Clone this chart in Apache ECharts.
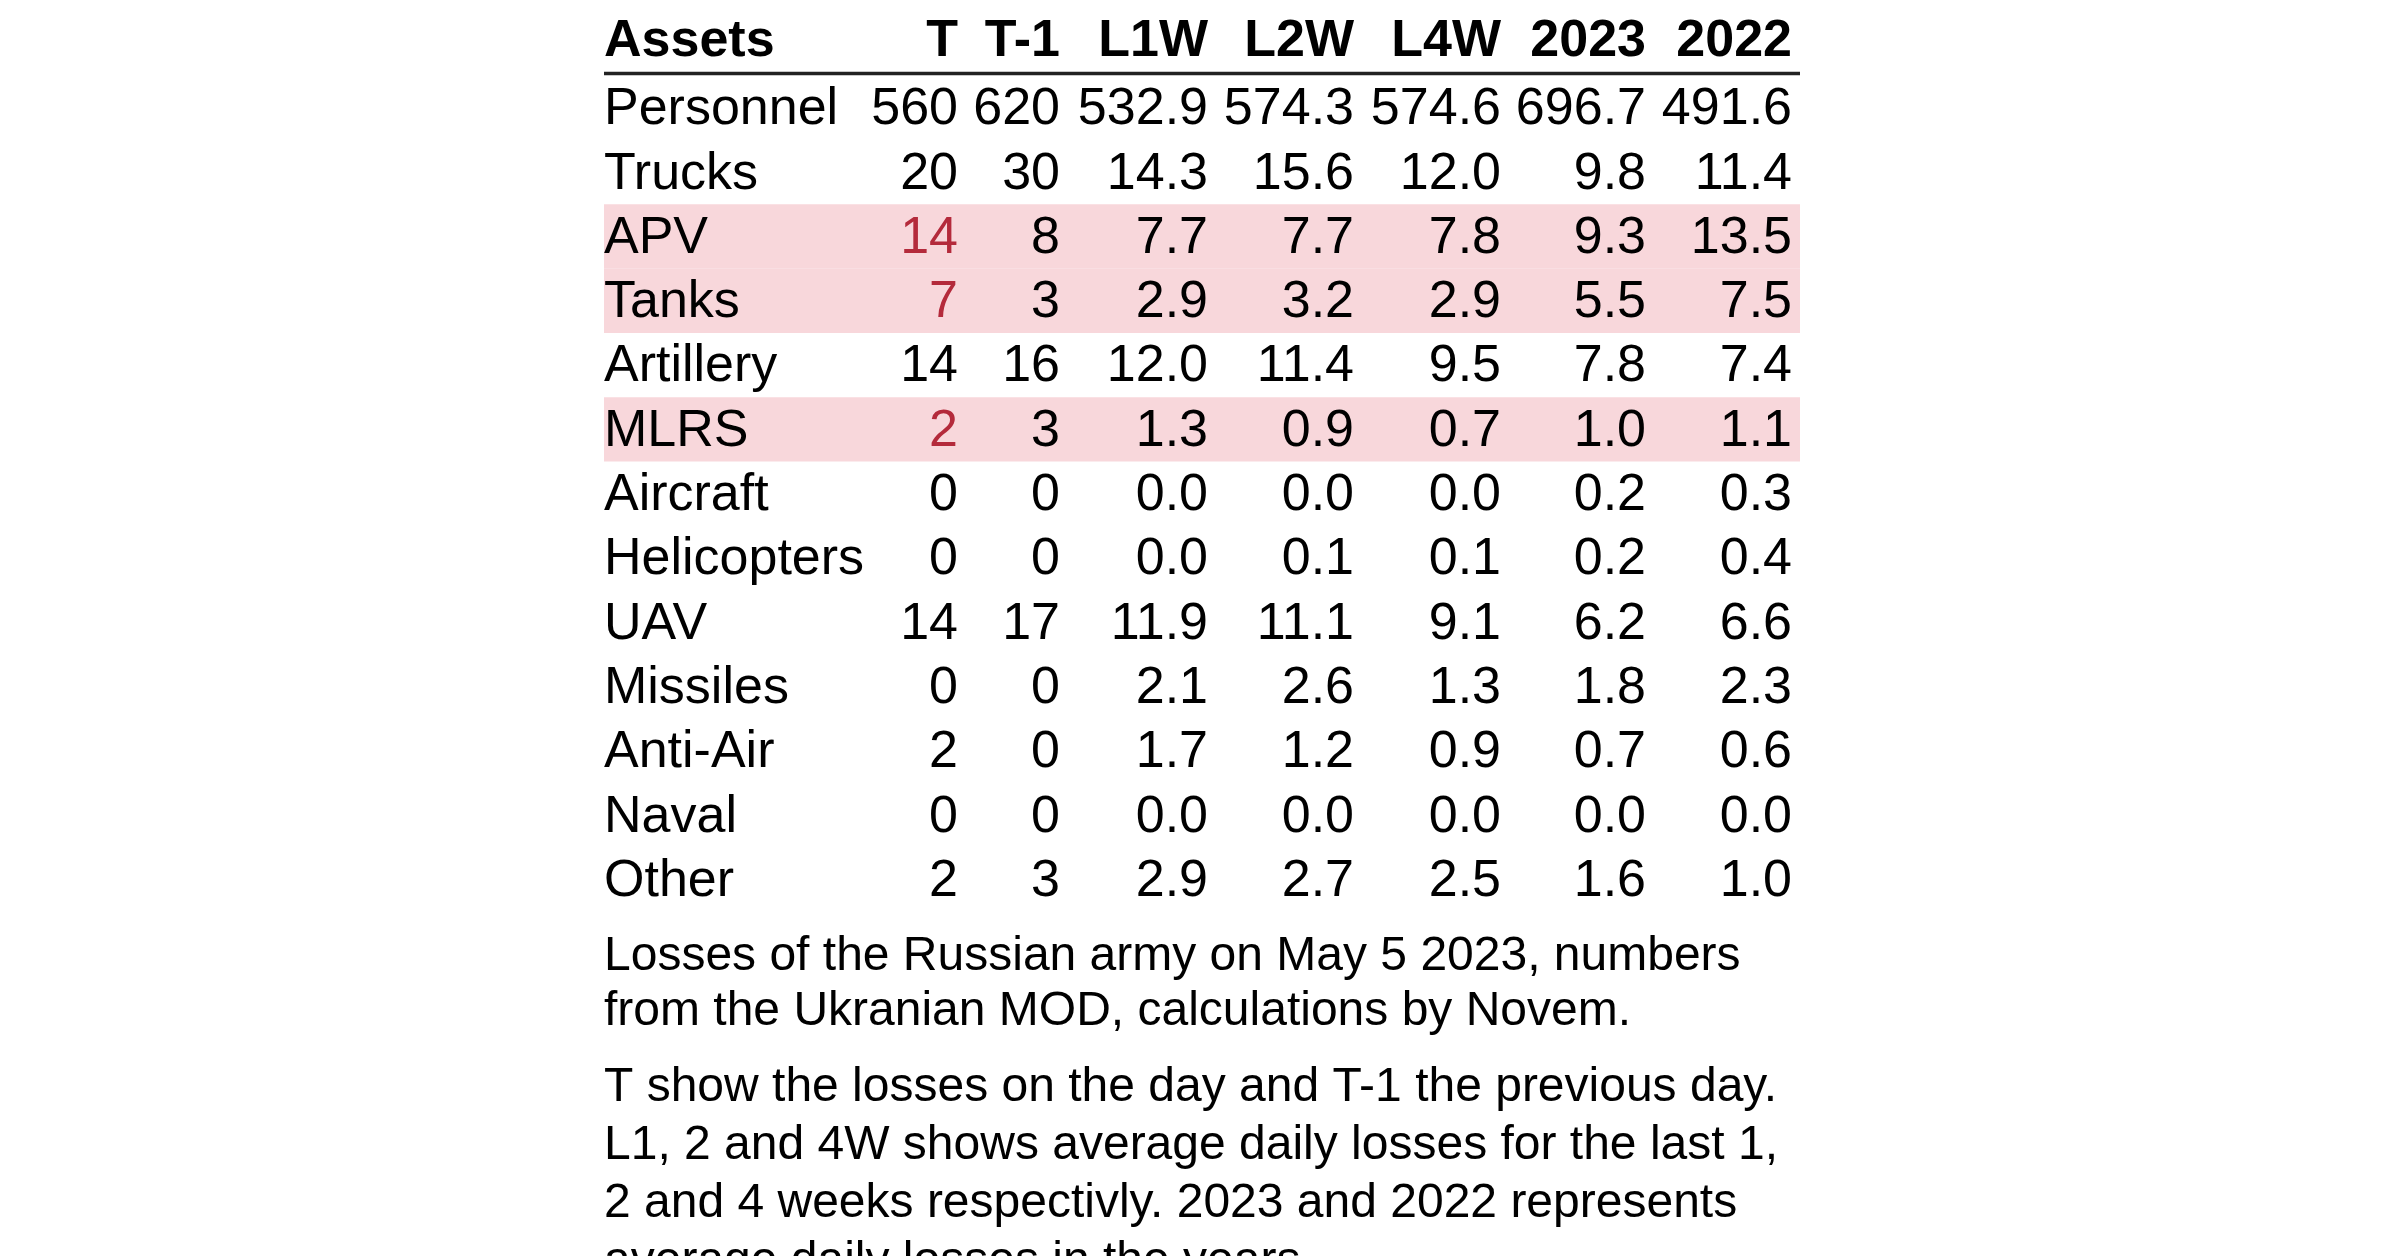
<!DOCTYPE html>
<html>
<head>
<meta charset="utf-8">
<script src="https://cdn.jsdelivr.net/npm/echarts@6/dist/echarts.min.js"></script>
<style>
  html, body { margin: 0; padding: 0; background: #fff; }
  #table-chart { width: 2400px; height: 1256px; }
</style>
</head>
<body>
<div id="table-chart"></div>
<script>
// 表格数据
const columns = ["T", "T-1", "L1W", "L2W", "L4W", "2023", "2022"];
const assets = ["Personnel", "Trucks", "APV", "Tanks", "Artillery", "MLRS", "Aircraft",
    "Helicopters", "UAV", "Missiles", "Anti-Air", "Naval", "Other"];
const tValues   = [560, 20, 14, 7, 14, 2, 0, 0, 14, 0, 2, 0, 2];
const t1Values  = [620, 30, 8, 3, 16, 3, 0, 0, 17, 0, 0, 0, 3];
const l1wValues = [532.9, 14.3, 7.7, 2.9, 12.0, 1.3, 0.0, 0.0, 11.9, 2.1, 1.7, 0.0, 2.9];
const l2wValues = [574.3, 15.6, 7.7, 3.2, 11.4, 0.9, 0.0, 0.1, 11.1, 2.6, 1.2, 0.0, 2.7];
const l4wValues = [574.6, 12.0, 7.8, 2.9, 9.5, 0.7, 0.0, 0.1, 9.1, 1.3, 0.9, 0.0, 2.5];
const y2023Values = [696.7, 9.8, 9.3, 5.5, 7.8, 1.0, 0.2, 0.2, 6.2, 1.8, 0.7, 0.0, 1.6];
const y2022Values = [491.6, 11.4, 13.5, 7.5, 7.4, 1.1, 0.3, 0.4, 6.6, 2.3, 0.6, 0.0, 1.0];
const highlightRows = ["APV", "Tanks", "MLRS"];

const note1 = "Losses of the Russian army on May 5 2023, numbers\nfrom the Ukranian MOD, calculations by Novem.";
const note2 = "T show the losses on the day and T-1 the previous day.\nL1, 2 and 4W shows average daily losses for the last 1,\n2 and 4 weeks respectivly. 2023 and 2022 represents\naverage daily losses in the years.";

// 布局 (x 轴单位为像素宽度, 列的右边缘)
const tableWidth = 1196;
const colRight = [354, 456, 604, 750, 897, 1042, 1188];
const FONT = '"Liberation Sans", Arial, sans-serif';
const RED = "#b42a3b";
const PINK = "#f8d7db";

const colValues = [tValues, t1Values, l1wValues, l2wValues, l4wValues, y2023Values, y2022Values];

let cells = [];
columns.forEach(function (c, ci) {
    cells.push([ci, -1, c, 1]);
});
assets.forEach(function (a, ri) {
    cells.push([-1, ri, a, 0]);
    colValues.forEach(function (vals, ci) {
        let txt = ci < 2 ? String(vals[ri]) : vals[ri].toFixed(1);
        let red = (ci === 0 && highlightRows.indexOf(a) >= 0) ? 2 : 0;
        cells.push([ci, ri, txt, red]);
    });
});
cells.push([-1, -1, "Assets", 1]);

let bands = highlightRows.map(function (a) { return [assets.indexOf(a)]; });

let dom = document.getElementById("table-chart");
let chart = echarts.init(dom);

let option = {
    backgroundColor: "#ffffff",
    animation: false,
    grid: { left: 604, top: 11.45, width: tableWidth, height: 900.2 },
    xAxis: { type: "value", min: 0, max: tableWidth, show: false },
    yAxis: { type: "value", min: -1.5, max: 12.5, inverse: true, show: false },
    graphic: [
        {
            type: "text", left: 604, top: 929,
            style: { text: note1, font: '48px ' + FONT, fill: "#000", lineHeight: 55 }
        },
        {
            type: "text", left: 604, top: 1059,
            style: { text: note2, font: '48px ' + FONT, fill: "#000", lineHeight: 58 }
        }
    ],
    series: [
        {
            type: "custom",
            name: "bands",
            data: bands,
            silent: true,
            renderItem: function (params, api) {
                let r = api.value(0);
                let p0 = api.coord([0, r - 0.5]);
                let p1 = api.coord([tableWidth, r + 0.5]);
                return {
                    type: "rect",
                    shape: { x: p0[0], y: p0[1], width: p1[0] - p0[0], height: p1[1] - p0[1] },
                    style: { fill: PINK }
                };
            }
        },
        {
            type: "custom",
            name: "rule",
            data: [[-0.5]],
            silent: true,
            renderItem: function (params, api) {
                let p0 = api.coord([0, api.value(0)]);
                let p1 = api.coord([tableWidth, api.value(0)]);
                return {
                    type: "rect",
                    shape: { x: p0[0], y: p0[1] - 4, width: p1[0] - p0[0], height: 3.5 },
                    style: { fill: "#222222" }
                };
            }
        },
        {
            type: "custom",
            name: "cells",
            data: cells,
            silent: true,
            renderItem: function (params, api) {
                let item = cells[params.dataIndex];
                let ci = item[0], ri = item[1], kind = item[3];
                let x = ci < 0 ? 0 : colRight[ci];
                let p = api.coord([x, ri]);
                let y = ri < 0 ? p[1] - 1.5 : p[1] + 2;
                return {
                    type: "text",
                    x: p[0],
                    y: y,
                    style: {
                        text: item[2],
                        font: (kind === 1 ? "bold " : "") + "52px " + FONT,
                        fill: kind === 2 ? RED : "#000000",
                        align: ci < 0 ? "left" : "right",
                        verticalAlign: "middle"
                    }
                };
            }
        }
    ]
};
chart.setOption(option);
</script>
</body>
</html>
